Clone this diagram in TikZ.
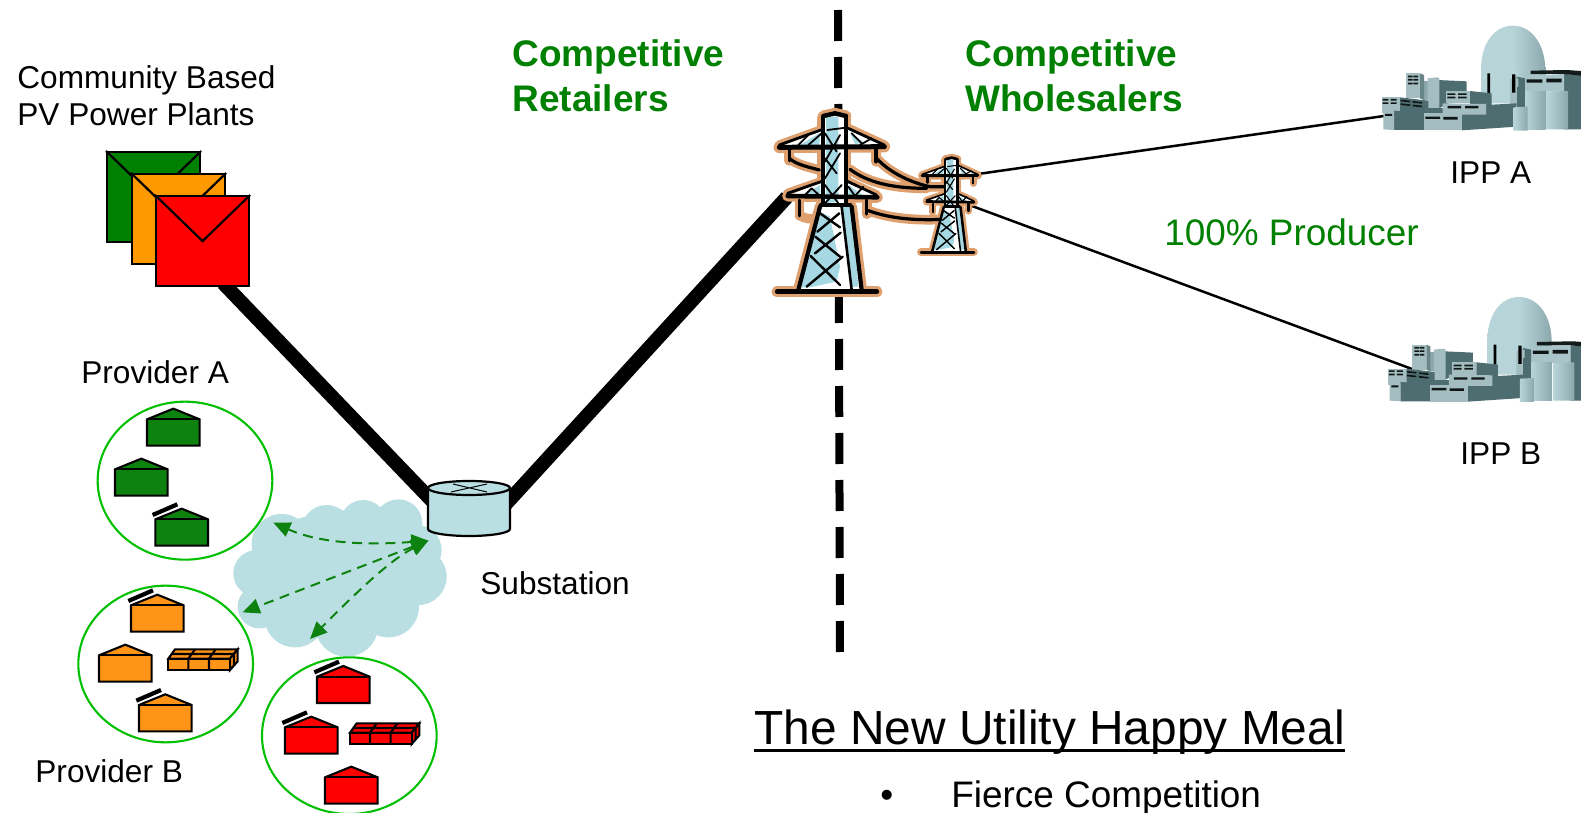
\documentclass[tikz,border=0pt]{standalone}
\usepackage{fontspec}
\setmainfont{Liberation Sans}
\usetikzlibrary{arrows.meta,shapes.geometric,calc}
\definecolor{gn}{HTML}{008000}
\definecolor{hgreen}{HTML}{0E820E}
\definecolor{horange}{HTML}{FF9416}
\definecolor{hred}{HTML}{FF0000}
\definecolor{eorange}{HTML}{FF9900}
\definecolor{ring}{HTML}{00C000}
\definecolor{pale}{HTML}{BADFE3}
\definecolor{halo}{HTML}{DDA06E}
\definecolor{twblue}{HTML}{A5D8E2}
\definecolor{plight}{HTML}{A3BDC1}
\definecolor{pdark}{HTML}{4E6D70}
\definecolor{pdome}{HTML}{B7D5D9}
\definecolor{pmid}{HTML}{8CA8AC}
\tikzset{
  txt/.style={anchor=base west,inner sep=0pt,font=\fontsize{15.8}{18}\selectfont},
  greentxt/.style={anchor=base west,inner sep=0pt,text=gn,font=\fontsize{18.45}{22}\selectfont},
  headtxt/.style={greentxt,font=\fontsize{18.5}{22}\selectfont\bfseries},
  envbox/.style={draw=black,line width=1.1pt,minimum width=46.5pt,minimum height=45pt,inner sep=0pt},
  feeder/.style={line width=7pt},
  thinline/.style={line width=1.25pt},
  divider/.style={line width=4pt,dash pattern=on 15.5pt off 8pt},
  ringst/.style={draw=ring,line width=1.05pt,fill=white},
  hs/.style={draw=black,line width=1.05pt,line join=miter},
  wave/.style={draw=hgreen,line width=1pt,dash pattern=on 5pt off 3.3pt,{Triangle[length=8.5pt,width=7.5pt]}-{Triangle[length=8.5pt,width=7.5pt]}}
}
\newcommand\envel[3]{%
  \node[envbox,fill=#3,anchor=north west] (#1) at #2 {};
  \draw[line width=1.1pt] (#1.north west) -- (#1.center) -- (#1.north east);
}
\newcommand\house[4]{%
  \begin{scope}[shift={(#1,#2)}]
    \filldraw[hs,fill=#3] (-79,0) -- (0,-32) -- (79,0) -- (79,79) -- (-79,79) -- cycle;
    \draw[hs] (-79,0) -- (79,0);
    \ifnum#4=1 \draw[line width=2.1pt] (-87,-13) -- (-13,-45); \fi
  \end{scope}}
\newcommand\bricks[3]{%
  \begin{scope}[shift={(#1,#2)}]
    \filldraw[hs,fill=#3] (0,0) -- (20,-28) -- (208,-28) -- (185,0) -- cycle;
    \filldraw[hs,fill=#3] (185,0) -- (208,-28) -- (208,8) -- (185,34) -- cycle;
    \filldraw[hs,fill=#3] (0,0) rectangle (185,34);
    \draw[hs] (60,0) -- (60,34) (122,0) -- (122,34) (60,0) -- (80,-28) (122,0) -- (142,-28) (10,-14) -- (197,-14) (197,-14) -- (197,22);
  \end{scope}}
% tower
\newcommand\tl[2]{\draw[line width=\twf*(#1+\tadd)*.5pt,color=\tcol,line cap=round,line join=round] #2;}
\newcommand\towerbody{%
  \tl{4}{(248,82) -- (248,340)}
  \tl{3.5}{(318,82) -- (318,340)}
  \tl{4.5}{(250,78) -- (285,70) -- (318,78)}
  \tl{5}{(118,172) -- (433,170)}
  \tl{2.8}{(118,165) -- (248,118)}
  \tl{2.8}{(318,112) -- (433,165)}
  \tl{4.5}{(143,318) -- (412,322)}
  \tl{2.8}{(143,310) -- (243,275)}
  \tl{2.8}{(320,273) -- (410,315)}
  \tl{3.5}{(148,176) -- (148,212)}
  \tl{3.5}{(408,176) -- (408,215)}
  \tl{3}{(178,330) -- (178,378)}
  \tl{3.5}{(380,330) -- (380,372)}
  \tl{4.5}{(243,345) -- (330,345)}
  \tl{4.2}{(240,350) -- (175,600)}
  \tl{4.2}{(335,350) -- (365,600)}
  \tl{2.6}{(305,350) -- (335,600)}
  \tl{5}{(112,605) -- (410,605)}
}
\newcommand\towerinner{%
  \fill[white] (250,75) -- (318,75) -- (318,345) -- (250,345) -- cycle
    (118,172) -- (250,115) -- (250,172) -- cycle
    (318,110) -- (433,168) -- (318,172) -- cycle
    (143,318) -- (245,275) -- (245,322) -- cycle
    (320,272) -- (412,318) -- (320,322) -- cycle
    (240,345) -- (335,345) -- (368,600) -- (175,600) -- cycle;
  \fill[twblue] (258,80) -- (295,80) -- (295,335) -- (258,340) -- cycle
    (180,165) -- (240,128) -- (238,165) -- cycle
    (330,128) -- (372,158) -- (345,162) -- cycle
    (190,315) -- (240,285) -- (240,318) -- cycle
    (325,285) -- (372,318) -- (325,318) -- cycle
    (240,365) -- (270,380) -- (300,530) -- (290,575) -- (210,592) -- (180,592) -- cycle
    (305,350) -- (335,350) -- (355,590) -- (335,590) -- cycle;
  \def\tadd{0}\def\tcol{black}
  \towerbody
  \tl{1.8}{(262,120) -- (318,113)}
  \tl{1.8}{(255,130) -- (290,185) (300,135) -- (255,215) (255,205) -- (290,250) (300,190) -- (255,265)}
  \tl{1.8}{(255,285) -- (295,340) (305,285) -- (255,340)}
  \tl{1.8}{(175,165) -- (205,135) (245,130) -- (205,165) (335,130) -- (365,160) (395,145) -- (360,165)}
  \tl{1.8}{(195,315) -- (215,295) (215,295) -- (240,318) (325,290) -- (345,318) (370,290) -- (345,318)}
  \tl{2.4}{(240,370) -- (300,412) (298,370) -- (232,425)}
  \tl{2.4}{(226,440) -- (300,500) (302,428) -- (225,490)}
  \tl{2.4}{(212,498) -- (300,585) (308,500) -- (200,590)}
}
\newcommand\wires{%
  \tl{3.2}{(148,205) .. controls (170,225) and (210,232) .. (238,240)}
  \tl{3.2}{(410,205) .. controls (450,250) and (520,280) .. (570,290) -- (640,290)}
  \tl{3.2}{(330,238) .. controls (380,275) and (450,295) .. (560,295)}
  \tl{3.2}{(385,362) .. controls (450,385) and (520,392) .. (610,388)}
}
\newcommand\plantshape[2]{%
  \begin{scope}[shift={(#1,#2)},scale=1/3]
    \shade[left color=pdome,right color=pmid,middle color=pdome] (393,175) .. controls (395,90) and (440,47) .. (488,47) .. controls (540,47) and (583,95) .. (586,175) -- (586,270) -- (393,270) -- cycle;
    \fill[pdome] (393,178) -- (500,182) -- (500,280) -- (393,280) -- cycle;
    \fill[pdark] (500,200) -- (525,205) -- (525,285) -- (500,285) -- cycle;
    \fill[plight] (480,208) -- (505,205) -- (505,285) -- (480,285) -- cycle;
    \fill[black] (412,190) rectangle (420,250) (486,193) rectangle (496,248);
    \fill[pdark] (262,210) -- (350,214) -- (350,250) -- (262,298) -- cycle;
    \fill[pmid] (222,212) -- (233,212) -- (233,270) -- (222,270) -- cycle;
    \fill[plight] (233,205) -- (262,202) -- (268,205) -- (268,298) -- (233,298) -- cycle;
    \fill[plight] (168,190) -- (210,190) -- (210,265) -- (168,265) -- cycle;
    \fill[pdark!70!plight] (210,190) -- (222,195) -- (222,270) -- (210,265) -- cycle;
    \fill[pdark] (360,243) -- (425,250) -- (425,285) -- (360,285) -- cycle;
    \fill[plight] (287,243) -- (360,243) -- (360,280) -- (287,280) -- cycle;
    \fill[pdark] (150,262) -- (235,272) -- (235,310) -- (150,310) -- cycle;
    \fill[plight] (95,262) -- (150,262) -- (150,310) -- (95,310) -- cycle;
    \fill[pdark] (225,295) -- (292,295) -- (292,312) -- (225,312) -- cycle;
    \fill[pdark] (132,302) -- (225,308) -- (225,360) -- (132,360) -- cycle;
    \fill[pdark] (335,312) -- (408,285) -- (500,280) -- (500,350) -- (335,361) -- cycle;
    \fill[plight] (278,280) -- (408,282) -- (408,314) -- (278,314) -- cycle;
    \fill[plight] (100,306) -- (132,302) -- (132,360) -- (100,358) -- cycle;
    \fill[plight] (222,310) -- (335,310) -- (335,361) -- (222,361) -- cycle;
    \fill[pdark] (642,192) -- (693,195) -- (693,358) -- (642,358) -- cycle;
    \fill[black!75!pdark] (542,182) -- (650,180) -- (693,183) -- (693,197) -- (642,192) -- (542,192) -- cycle;
    \fill[plight!70!pdome] (525,197) -- (642,192) -- (642,245) -- (525,245) -- cycle;
    \fill[pdark] (500,230) -- (525,230) -- (525,350) -- (500,350) -- cycle;
    \shade[left color=pdome,right color=pmid] (525,245) -- (587,245) -- (587,358) -- (525,358) -- cycle;
    \shade[left color=pdome,right color=pmid] (590,245) -- (654,243) -- (654,358) -- (590,358) -- cycle;
    \shade[left color=pdome,right color=pmid] (491,292) -- (533,290) -- (533,362) -- (491,362) -- cycle;
    \fill[black!80!pdark]
      (174,197) rectangle (188,202) (190,197) rectangle (204,202)
      (174,207) rectangle (188,212) (190,207) rectangle (204,212)
      (174,218) rectangle (188,223) (190,218) rectangle (204,223)
      (98,267) rectangle (115,272) (122,267) rectangle (140,272)
      (98,277) rectangle (115,282) (122,277) rectangle (140,282)
      (152,269) -- (180,272) -- (180,277) -- (152,274) -- cycle
      (188,273) -- (216,276) -- (216,281) -- (188,278) -- cycle
      (152,280) -- (180,283) -- (180,288) -- (152,285) -- cycle
      (188,284) -- (216,287) -- (216,292) -- (188,289) -- cycle
      (292,250) rectangle (316,255) (324,250) rectangle (350,255)
      (292,260) rectangle (316,265) (324,260) rectangle (350,265)
      (293,288) rectangle (333,295) (345,288) rectangle (385,295)
      (226,320) rectangle (270,327) (280,321) rectangle (323,329)
      (105,312) rectangle (126,318)
      (530,208) rectangle (577,218) (589,206) rectangle (635,217);
  \end{scope}}
\begin{document}
\begin{tikzpicture}[x=.5pt,y=-.5pt]
\useasboundingbox (0,0) rectangle (1581,813);
\clip (0,0) rectangle (1581,813);
\fill[white] (0,0) rectangle (1581,813);

\coordinate (divtop) at (838,10);
\coordinate (divbot) at (840,657);
\draw[divider] (divtop) -- (divbot);

\coordinate (subL) at (436,505);
\coordinate (subR) at (505,505);
\coordinate (twrin) at (787,197);
\coordinate (smallA) at (978,174);
\coordinate (smallB) at (972,206);
\coordinate (plantA) at (1384,116);
\coordinate (plantB) at (1412,369);
\coordinate (envfoot) at (223,283);
\draw[feeder] (envfoot) -- (subL);
\draw[feeder] (subR) -- (twrin);

\envel{envG}{(106,151)}{gn}
\envel{envO}{(131,173)}{eorange}
\envel{envR}{(155,195)}{hred}

\begin{scope}[shift={(70,390)},scale=1/3]
  \fill[pale] (635,462) circle[radius=90] (770,420) circle[radius=75] (880,400) circle[radius=70]
    (985,400) circle[radius=72] (1040,480) circle[radius=75] (1045,560) circle[radius=85]
    (955,650) circle[radius=92] (830,705) circle[radius=95] (675,680) circle[radius=92]
    (568,650) circle[radius=65] (560,550) circle[radius=70] (800,550) circle[radius=190]
    (650,590) circle[radius=120] (720,490) circle[radius=110];
  \draw[ringst] (345,272) ellipse[x radius=262,y radius=237];
  \draw[ringst] (287,822) ellipse[x radius=262,y radius=235];
  \draw[ringst] (838,1037) ellipse[x radius=262,y radius=235];
  \house{310}{88}{hgreen}{0}
  \house{214}{238}{hgreen}{0}
  \house{335}{388}{hgreen}{1}
  \house{262}{646}{horange}{1}
  \house{166}{796}{horange}{0}
  \house{286}{945}{horange}{1}
  \bricks{295}{806}{horange}
  \house{820}{860}{hred}{1}
  \house{724}{1012}{hred}{1}
  \house{844}{1162}{hred}{0}
  \bricks{840}{1028}{hred}
  \coordinate (wsrc) at (1075,452);
  \coordinate (w1) at (610,398);
  \coordinate (w2) at (518,667);
  \coordinate (w3) at (720,747);
\end{scope}

\node[inner sep=0pt,minimum width=41pt,minimum height=27pt,anchor=north west] (sub) at (428,481) {};
\filldraw[draw=black,line width=1.1pt,fill=pale] (428,488) -- (428,529) arc[start angle=180,end angle=0,x radius=41,y radius=7] -- (510,488) -- cycle;
\filldraw[draw=black,line width=1.1pt,fill=pale] (469,488) ellipse[x radius=41,y radius=7];
\draw[line width=.5pt] (453,484) -- (487,492) (487,484) -- (451,492);

\draw[wave] (wsrc) .. controls ($(wsrc)+(-65,5)$) and ($(w1)+(45,20)$) .. (w1);
\draw[wave] (wsrc) -- (w2);
\draw[wave] (wsrc) .. controls ($(wsrc)+(-40,20)$) and ($(w3)+(40,-40)$) .. (w3);

\draw[thinline] (smallA) -- (plantA);
\draw[thinline] (smallB) -- (plantB);

\begin{scope}[shift={(740,90)},scale=1/3]
  \def\twf{1}\def\tadd{6.5}\def\tcol{halo}
  \wires
  \tl{3}{(178,375) .. controls (195,388) and (215,388) .. (232,385)}
  \towerbody
  \begin{scope}[shift={(484,166)},scale=.53]
    \def\twf{.6}\def\tadd{8.5}
    \towerbody
  \end{scope}
  \def\tadd{0}\def\tcol{black}
  \wires
  \def\twf{1}
  \towerinner
  \begin{scope}[shift={(484,166)},scale=.53]
    \def\twf{.6}
    \towerinner
  \end{scope}
\end{scope}

\plantshape{1350}{10}
\plantshape{1356.3}{281.3}

\node[txt] (t1) at (17,89) {Community Based};
\node[txt] (t2) at (17,126) {PV Power Plants};
\node[txt] (t3) at (81,383) {Provider A};
\node[txt] (t4) at (35,782) {Provider B};
\node[txt] (t5) at (480,594) {Substation};
\node[txt] (t6) at (1450,184) {IPP A};
\node[txt] (t7) at (1460,464) {IPP B};
\node[headtxt] (t8) at (512,67) {Competitive};
\node[headtxt] (t9) at (512,112) {Retailers};
\node[headtxt] (t10) at (965,67) {Competitive};
\node[headtxt] (t11) at (965,112) {Wholesalers};
\node[greentxt] (t12) at (1164,245) {100\% Producer};
\node[anchor=base west,inner sep=0pt,font=\fontsize{23.93}{28}\selectfont] (title) at (754,744) {The New Utility Happy Meal};
\draw[line width=1.1pt] ([yshift=-3.2pt]title.base west) -- ([yshift=-3.2pt]title.base east);
\node[anchor=base west,inner sep=0pt,font=\fontsize{18.45}{22}\selectfont] (b1) at (880,807) {•};
\node[anchor=base west,inner sep=0pt,font=\fontsize{18.45}{22}\selectfont] (b2) at (951,807) {Fierce Competition};
\end{tikzpicture}
\end{document}
